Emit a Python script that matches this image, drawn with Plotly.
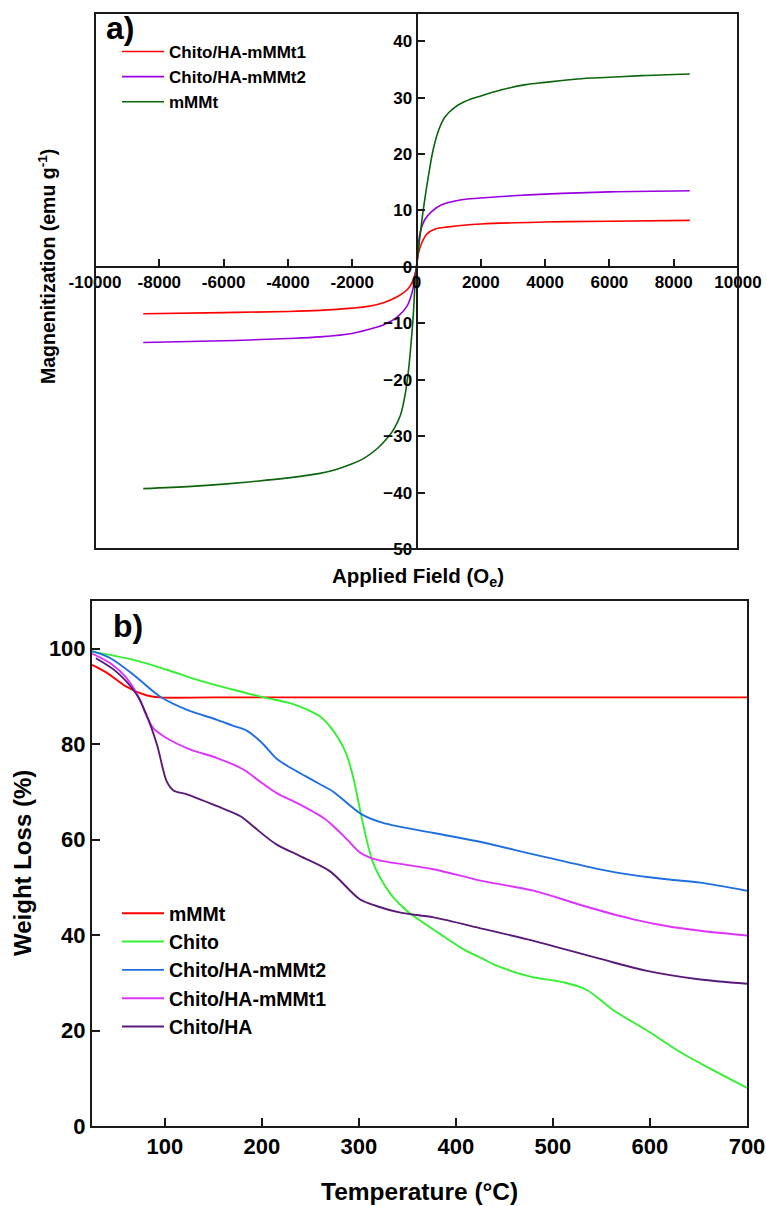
import plotly.graph_objects as go

# ---------------- Panel a) : magnetization ----------------
H_red = [-8500, -6000, -4000, -3000, -2000, -1500, -1000, -600, -300, -150, -50, 0,
         60, 160, 320, 580, 1000, 2000, 4000, 6000, 8500]
M_red = [-8.3, -8.1, -7.9, -7.7, -7.3, -7.0, -6.3, -5.3, -4.1, -2.9, -1.3, 0,
         2.4, 4.2, 5.8, 6.7, 7.1, 7.6, 7.95, 8.1, 8.25]

H_pur = [-8500, -6000, -4000, -3000, -2000, -1500, -1000, -600, -300, -150, -50, 0,
         50, 110, 260, 470, 780, 1400, 2000, 3000, 4000, 6000, 8500]
M_pur = [-13.4, -13.1, -12.7, -12.4, -11.8, -11.1, -10.2, -8.9, -7.0, -4.8, -2.0, 0,
         3.5, 6.0, 8.4, 9.8, 11.0, 11.9, 12.2, 12.6, 12.9, 13.3, 13.5]

H_grn = [-8500, -7000, -6000, -5000, -4000, -3000, -2500, -2000, -1600, -1200, -900, -700,
         -500, -350, -250, -170, -100, -50, 0, 100, 210, 370, 520, 680, 890, 1200, 1500,
         2000, 2650, 3400, 4000, 5000, 6000, 7000, 8500]
M_grn = [-39.3, -38.9, -38.5, -38.0, -37.4, -36.6, -35.9, -34.9, -33.8, -32.1, -30.3, -28.7,
         -26.3, -22.5, -18.4, -13.6, -8.5, -3.5, 0, 5.0, 10.1, 16.1, 20.8, 24.1, 26.6, 28.3, 29.3,
         30.3, 31.4, 32.3, 32.7, 33.3, 33.6, 33.9, 34.2]

a_names = ["Chito/HA-mMMt1", "Chito/HA-mMMt2", "mMMt"]
a_colors = ["#ff0000", "#9a00e0", "#0b650b"]
a_xticks = list(range(-10000, 10001, 2000))
a_xticklabels = [str(v) for v in a_xticks]
a_yticks = list(range(-50, 41, 10))

# ---------------- Panel b) : TGA ----------------
T_mmmt = [25, 40, 60, 80, 95, 150, 300, 500, 700]
W_mmmt = [96.6, 95.0, 92.1, 90.3, 89.8, 89.8, 89.8, 89.8, 89.8]

T_chito = [25, 67, 102, 136, 171, 202, 229, 245, 260, 270, 279, 287, 293, 298, 303, 308,
           314, 322, 335, 350, 384, 408, 428, 442, 477, 511, 535, 562, 597, 631, 666, 700]
W_chito = [99.4, 97.7, 95.6, 93.3, 91.4, 89.8, 88.6, 87.4, 85.8, 83.8, 81.2, 78.0, 74.0, 69.5,
           64.5, 60.0, 55.5, 52.0, 48.0, 45.0, 40.2, 37.0, 35.0, 33.6, 31.3, 30.1, 28.5, 24.3,
           20.0, 15.5, 11.6, 8.0]

T_m2 = [25, 44, 68, 95, 123, 154, 170, 185, 200, 215, 230, 245, 260, 274, 290, 303, 325,
        377, 428, 480, 532, 566, 617, 652, 700]
W_m2 = [99.5, 98.0, 94.5, 90.0, 87.2, 85.1, 83.9, 82.8, 80.3, 77.0, 75.0, 73.3, 71.6, 70.0,
        67.3, 65.3, 63.5, 61.4, 59.4, 56.9, 54.5, 53.1, 51.7, 51.0, 49.3]

T_m1 = [25, 45, 60, 74, 80, 88, 100, 126, 154, 181, 198, 215, 239, 264, 275, 288, 301, 312,
        325, 377, 428, 480, 532, 583, 617, 652, 700]
W_m1 = [99.0, 96.8, 94.0, 89.5, 86.5, 83.4, 81.5, 78.9, 77.1, 74.7, 72.2, 69.8, 67.4, 64.5,
        62.6, 60.0, 57.3, 56.2, 55.5, 53.8, 51.3, 49.3, 46.1, 43.3, 41.9, 40.9, 39.9]

T_ha = [29, 50, 71, 81, 92, 102, 109, 123, 154, 178, 191, 215, 239, 270, 301, 318, 343, 377,
        428, 480, 549, 597, 648, 700]
W_ha = [98.0, 95.2, 90.4, 86.2, 79.9, 72.2, 70.3, 69.5, 67.0, 64.9, 62.8, 59.0, 56.6, 53.4,
        47.5, 46.1, 44.7, 43.7, 41.3, 38.8, 35.0, 32.5, 30.8, 29.8]

b_names = ["mMMt", "Chito", "Chito/HA-mMMt2", "Chito/HA-mMMt1", "Chito/HA"]
b_colors = ["#ff0000", "#33f033", "#1f6fe0", "#dd33ff", "#5a1a78"]
b_xticks = list(range(100, 701, 100))
b_yticks = list(range(0, 101, 20))

W, H = 766, 1206
FONT = "Liberation Sans, Arial, sans-serif"
AX = "#1a1a1a"

def px_x(p):
    return p / W

def px_y(p):
    return 1 - p / H

# domains (paper fractions) from pixel boxes
a_x = [px_x(95), px_x(738)]
a_y = [px_y(549), px_y(13)]
b_x = [px_x(92), px_x(747)]
b_y = [px_y(1126), px_y(601)]

a_xr = [-10000, 10000]
a_yr = [-50, 45]
zero_y_paper = a_y[0] + (0 - a_yr[0]) / (a_yr[1] - a_yr[0]) * (a_y[1] - a_y[0])
zero_x_paper = a_x[0] + (0 - a_xr[0]) / (a_xr[1] - a_xr[0]) * (a_x[1] - a_x[0])

fig = go.Figure()

for (hx, my), nm, col in zip([(H_red, M_red), (H_pur, M_pur), (H_grn, M_grn)], a_names, a_colors):
    fig.add_trace(go.Scatter(x=hx, y=my, mode="lines", name=nm,
                             line=dict(color=col, width=1.6, shape="spline", smoothing=1.0),
                             xaxis="x", yaxis="y", legend="legend"))

for (tx, wy), nm, col in zip([(T_mmmt, W_mmmt), (T_chito, W_chito), (T_m2, W_m2),
                              (T_m1, W_m1), (T_ha, W_ha)], b_names, b_colors):
    fig.add_trace(go.Scatter(x=tx, y=wy, mode="lines", name=nm,
                             line=dict(color=col, width=1.9, shape="spline", smoothing=0.9),
                             xaxis="x2", yaxis="y2", legend="legend2"))

tickfont_a = dict(family=FONT, size=17, color="#000", weight="bold")
tickfont_b = dict(family=FONT, size=22, color="#000", weight="bold")

fig.update_layout(
    width=W, height=H,
    margin=dict(l=0, r=0, t=0, b=0),
    paper_bgcolor="white", plot_bgcolor="white",
    xaxis=dict(domain=a_x, range=a_xr, anchor="free", position=zero_y_paper,
               tickmode="array", tickvals=a_xticks, ticktext=a_xticklabels,
               ticks="inside", ticklen=7, tickwidth=2, tickcolor=AX,
               showline=True, linecolor=AX, linewidth=2, showgrid=False, zeroline=False,
               tickfont=tickfont_a, automargin=False),
    yaxis=dict(domain=a_y, range=a_yr, anchor="free", position=zero_x_paper,
               tickmode="array", tickvals=a_yticks,
               ticks="inside", ticklen=7, tickwidth=2, tickcolor=AX,
               showline=True, linecolor=AX, linewidth=2, showgrid=False, zeroline=False,
               tickfont=tickfont_a, automargin=False),
    xaxis2=dict(domain=b_x, range=[25, 700], anchor="y2",
                tickmode="array", tickvals=b_xticks,
                ticks="inside", ticklen=8, tickwidth=2, tickcolor=AX,
                showline=True, mirror=True, linecolor=AX, linewidth=2,
                showgrid=False, zeroline=False, tickfont=tickfont_b, automargin=False),
    yaxis2=dict(domain=b_y, range=[0, 110], anchor="x2",
                tickmode="array", tickvals=b_yticks,
                ticks="inside", ticklen=8, tickwidth=2, tickcolor=AX,
                showline=True, mirror=True, linecolor=AX, linewidth=2,
                showgrid=False, zeroline=False, tickfont=tickfont_b, automargin=False),
    legend=dict(x=px_x(117), y=px_y(34), xanchor="left", yanchor="top",
                bgcolor="rgba(0,0,0,0)", borderwidth=0, itemwidth=42,
                font=dict(family=FONT, size=17, color="#000", weight="bold"),
                tracegroupgap=0),
    legend2=dict(x=px_x(117), y=px_y(894), xanchor="left", yanchor="top",
                 bgcolor="rgba(0,0,0,0)", borderwidth=0, itemwidth=42,
                 font=dict(family=FONT, size=19.5, color="#000", weight="bold"),
                 tracegroupgap=0),
    showlegend=True,
)

# frame around panel a
fig.add_shape(type="rect", xref="x domain", yref="y domain", x0=0, x1=1, y0=0, y1=1,
              line=dict(color=AX, width=2), fillcolor="rgba(0,0,0,0)", layer="above")

ann = [
    dict(text="a)", x=px_x(104), y=px_y(28), xanchor="left", yanchor="middle",
         font=dict(family=FONT, size=32, color="#000", weight="bold")),
    dict(text="b)", x=px_x(111), y=px_y(626), xanchor="left", yanchor="middle",
         font=dict(family=FONT, size=32, color="#000", weight="bold")),
    dict(text="Magnenitization (emu g<sup>-1</sup>)", x=px_x(47), y=px_y(267),
         xanchor="center", yanchor="middle", textangle=-90,
         font=dict(family=FONT, size=19.5, color="#000", weight="bold")),
    dict(text="Applied Field (O<sub>e</sub>)", x=px_x(418), y=px_y(577),
         xanchor="center", yanchor="middle",
         font=dict(family=FONT, size=20.5, color="#000", weight="bold")),
    dict(text="Weight Loss (%)", x=px_x(22), y=px_y(863),
         xanchor="center", yanchor="middle", textangle=-90,
         font=dict(family=FONT, size=24, color="#000", weight="bold")),
    dict(text="Temperature (°C)", x=px_x(419), y=px_y(1191),
         xanchor="center", yanchor="middle",
         font=dict(family=FONT, size=24.5, color="#000", weight="bold")),
]
for a in ann:
    fig.add_annotation(xref="paper", yref="paper", showarrow=False, **a)

fig.write_html("out.html",
               config={"displayModeBar": False},
               post_script="document.body.style.margin='0';"
                           "document.body.style.overflow='hidden';")
